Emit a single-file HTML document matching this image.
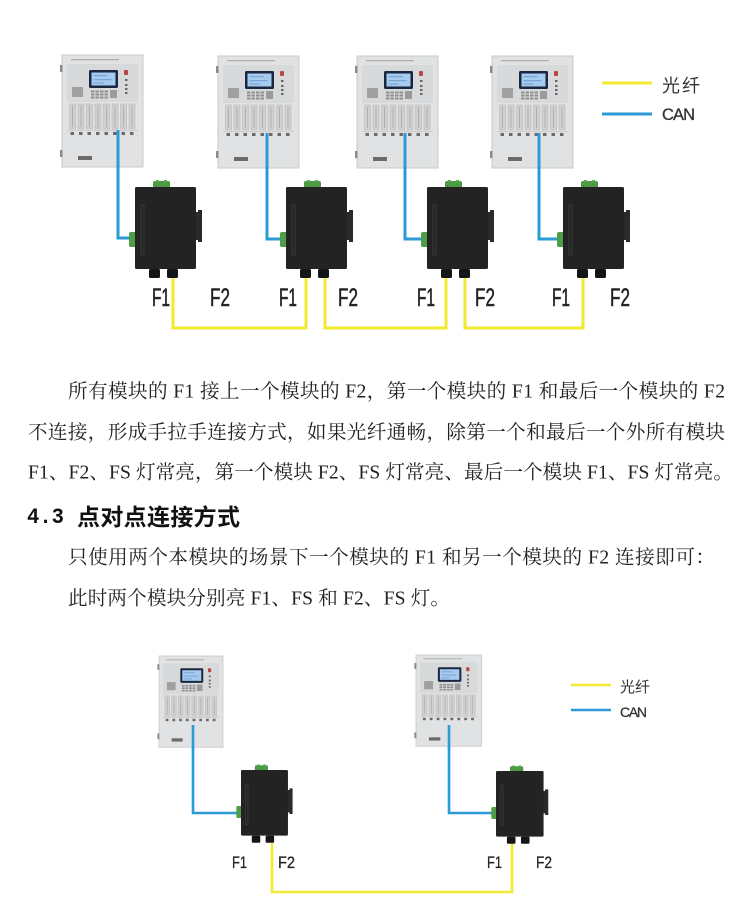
<!DOCTYPE html>
<html><head><meta charset="utf-8">
<style>
html,body{margin:0;padding:0;background:#fff;}
body{width:750px;height:912px;position:relative;overflow:hidden;}
svg{position:absolute;left:0;top:0;}
</style></head>
<body>
<svg width="750" height="912" viewBox="0 0 750 912" xmlns="http://www.w3.org/2000/svg">
<defs>
 <g id="pn">
  <rect x="0" y="0" width="81" height="112" fill="#e1e2e3" stroke="#c9c9c9" stroke-width="1"/>
  <rect x="-2" y="10" width="2.5" height="7" fill="#8a8a8a"/>
  <rect x="-2" y="95" width="2.5" height="7" fill="#8a8a8a"/>
  <rect x="9" y="4" width="48" height="1.3" fill="#b0b0b0"/>
  <rect x="5" y="9" width="71" height="38" fill="#d8d9da"/>
  <rect x="27" y="15" width="29" height="18" rx="1.5" fill="#1b2640"/>
  <rect x="29.5" y="17.5" width="24" height="13" fill="#a6cbef"/>
  <rect x="31.5" y="20" width="14" height="1.2" fill="#79a6d6"/>
  <rect x="31.5" y="24" width="18" height="1.2" fill="#79a6d6"/>
  <rect x="31.5" y="27.5" width="10" height="1.2" fill="#79a6d6"/>
  <rect x="10" y="32" width="11" height="10" fill="#a0a0a0"/>
  <g fill="#8f8f8f">
   <rect x="29" y="35.5" width="3.5" height="2"/><rect x="33.5" y="35.5" width="3.5" height="2"/><rect x="38" y="35.5" width="3.5" height="2"/><rect x="42.5" y="35.5" width="3.5" height="2"/>
   <rect x="29" y="38.5" width="3.5" height="2"/><rect x="33.5" y="38.5" width="3.5" height="2"/><rect x="38" y="38.5" width="3.5" height="2"/><rect x="42.5" y="38.5" width="3.5" height="2"/>
   <rect x="29" y="41.5" width="3.5" height="2"/><rect x="33.5" y="41.5" width="3.5" height="2"/><rect x="38" y="41.5" width="3.5" height="2"/><rect x="42.5" y="41.5" width="3.5" height="2"/>
  </g>
  <rect x="48" y="35" width="7" height="8" fill="#9a9a9a"/>
  <rect x="62" y="15" width="4" height="5" rx="1" fill="#b84444"/>
  <g fill="#666">
   <rect x="63" y="24" width="2.5" height="2"/><rect x="63" y="29" width="2.5" height="2"/><rect x="63" y="33" width="2.5" height="2"/><rect x="63" y="37" width="2.5" height="2"/>
  </g>
  <g fill="#d0d0d0" stroke="#bbbbbb" stroke-width="0.6">
   <rect x="7.5" y="49" width="6" height="25"/><rect x="16" y="49" width="6" height="25"/><rect x="24.5" y="49" width="6" height="25"/><rect x="33" y="49" width="6" height="25"/>
   <rect x="41.5" y="49" width="6" height="25"/><rect x="50" y="49" width="6" height="25"/><rect x="58.5" y="49" width="6" height="25"/><rect x="67" y="49" width="6" height="25"/>
  </g>
  <g fill="#b0b0b0">
   <rect x="10" y="51" width="1" height="21"/><rect x="18.5" y="51" width="1" height="21"/><rect x="27" y="51" width="1" height="21"/><rect x="35.5" y="51" width="1" height="21"/>
   <rect x="44" y="51" width="1" height="21"/><rect x="52.5" y="51" width="1" height="21"/><rect x="61" y="51" width="1" height="21"/><rect x="69.5" y="51" width="1" height="21"/>
  </g>
  <rect x="5" y="75.5" width="71" height="0.6" fill="#bbbbbb"/>
  <g fill="#6a6a6a">
   <rect x="8.5" y="77" width="3.5" height="3"/><rect x="17" y="77" width="3.5" height="3"/><rect x="25.5" y="77" width="3.5" height="3"/><rect x="34" y="77" width="3.5" height="3"/>
   <rect x="42.5" y="77" width="3.5" height="3"/><rect x="51" y="77" width="3.5" height="3"/><rect x="59.5" y="77" width="3.5" height="3"/><rect x="68" y="77" width="3.5" height="3"/>
  </g>
  <rect x="16" y="101" width="14" height="4" fill="#6b6b6b"/>
 </g>
 <g id="md">
  <rect x="18" y="-6" width="17" height="7" rx="2" fill="#4c9a44"/>
  <rect x="21" y="-7" width="3" height="2" fill="#5fae55"/>
  <rect x="29" y="-7" width="3" height="2" fill="#5fae55"/>
  <rect x="-6" y="45" width="8" height="15" rx="2" fill="#4f9d46"/>
  <path d="M60 25 h3 v-2 h4 v32 h-4 v-2 h-3z" fill="#2a2a2a"/>
  <rect x="0" y="0" width="61" height="82" rx="1.5" fill="#232323"/>
  <rect x="6" y="18" width="3" height="50" fill="none" stroke="#3a3a3a" stroke-width="1"/>
  <rect x="14" y="82" width="11" height="9" rx="1.5" fill="#151515"/>
  <rect x="32" y="82" width="11" height="9" rx="1.5" fill="#151515"/>
 </g>
</defs>

<!-- TOP DIAGRAM -->
<g fill="none" stroke="#f2ea2f" stroke-width="3">
 <path d="M173 278 V328 H306 V278"/>
 <path d="M325 278 V328 H446 V278"/>
 <path d="M465 278 V328 H583 V278"/>
</g>
<g fill="none" stroke="#2b9ad6" stroke-width="3">
 <path d="M118 130 V238 H131"/>
 <path d="M267 133 V239 H282"/>
 <path d="M405 133 V239 H423"/>
 <path d="M539 133 V239 H559"/>
</g>
<use href="#pn" transform="translate(62,55)"/>
<use href="#pn" transform="translate(218,56)"/>
<use href="#pn" transform="translate(357,56)"/>
<use href="#pn" transform="translate(492,56)"/>
<g fill="none" stroke="#2b9ad6" stroke-width="3">
 <path d="M118 130 V170"/>
 <path d="M267 133 V170"/>
 <path d="M405 133 V170"/>
 <path d="M539 133 V170"/>
</g>
<use href="#md" transform="translate(135,187)"/>
<use href="#md" transform="translate(286,187)"/>
<use href="#md" transform="translate(427,187)"/>
<use href="#md" transform="translate(563,187)"/>

<g font-family="Liberation Sans, sans-serif" font-size="25" fill="#222" stroke="#222" stroke-width="0.5">
 <text x="152" y="306" textLength="18" lengthAdjust="spacingAndGlyphs">F1</text>
 <text x="210" y="306" textLength="20" lengthAdjust="spacingAndGlyphs">F2</text>
 <text x="279" y="306" textLength="18" lengthAdjust="spacingAndGlyphs">F1</text>
 <text x="338" y="306" textLength="20" lengthAdjust="spacingAndGlyphs">F2</text>
 <text x="417" y="306" textLength="18" lengthAdjust="spacingAndGlyphs">F1</text>
 <text x="475" y="306" textLength="20" lengthAdjust="spacingAndGlyphs">F2</text>
 <text x="552" y="306" textLength="18" lengthAdjust="spacingAndGlyphs">F1</text>
 <text x="610" y="306" textLength="20" lengthAdjust="spacingAndGlyphs">F2</text>
</g>

<!-- top legend -->
<line x1="602" y1="83" x2="652" y2="83" stroke="#f2ea2f" stroke-width="3"/>
<line x1="602" y1="114" x2="652" y2="114" stroke="#2b9ad6" stroke-width="3"/>
<text x="662" y="92" font-family="Noto Sans CJK SC, sans-serif" font-size="18" fill="#333" textLength="38" lengthAdjust="spacing">光纤</text>
<text x="662" y="120" font-family="Liberation Sans, sans-serif" font-size="16.5" fill="#333" stroke="#333" stroke-width="0.3" textLength="33" lengthAdjust="spacing">CAN</text>

<!-- BODY TEXT -->
<g font-family="Liberation Serif, Noto Serif CJK SC, serif" font-size="19.6" fill="#222">
 <text x="68" y="397.5" textLength="657" lengthAdjust="spacing">所有模块的 F1 接上一个模块的 F2，第一个模块的 F1 和最后一个模块的 F2</text>
 <text x="28" y="438.5" textLength="697" lengthAdjust="spacing">不连接，形成手拉手连接方式，如果光纤通畅，除第一个和最后一个外所有模块</text>
 <text x="28" y="478.5" textLength="705" lengthAdjust="spacing">F1、F2、FS 灯常亮，第一个模块 F2、FS 灯常亮、最后一个模块 F1、FS 灯常亮。</text>
 <text x="68" y="563.5" textLength="647" lengthAdjust="spacing">只使用两个本模块的场景下一个模块的 F1 和另一个模块的 F2 连接即可：</text>
 <text x="68" y="604.5" textLength="382" lengthAdjust="spacing">此时两个模块分别亮 F1、FS 和 F2、FS 灯。</text>
</g>
<text x="27" y="523" font-family="Liberation Mono, monospace" font-weight="bold" font-size="22" fill="#111" textLength="37" lengthAdjust="spacingAndGlyphs">4.3</text>
<text x="77" y="525" font-family="Noto Sans CJK SC, sans-serif" font-weight="bold" font-size="23" fill="#111" textLength="163" lengthAdjust="spacing">点对点连接方式</text>

<!-- BOTTOM DIAGRAM -->
<path d="M272 843 V892 H512 V843" fill="none" stroke="#f2ea2f" stroke-width="2.6"/>
<g fill="none" stroke="#2b9ad6" stroke-width="2.6">
 <path d="M193 725 V813 H237"/>
 <path d="M449 725 V813 H492"/>
</g>
<use href="#pn" transform="translate(159,656) scale(0.79,0.815)"/>
<use href="#pn" transform="translate(416,655) scale(0.81,0.815)"/>
<g fill="none" stroke="#2b9ad6" stroke-width="2.6">
 <path d="M193 725 V750"/>
 <path d="M449 725 V750"/>
</g>
<use href="#md" transform="translate(241,770) scale(0.77,0.8)"/>
<use href="#md" transform="translate(496,771) scale(0.78,0.8)"/>

<g font-family="Liberation Sans, sans-serif" font-size="17" fill="#222" stroke="#222" stroke-width="0.3">
 <text x="232" y="868" textLength="15" lengthAdjust="spacingAndGlyphs">F1</text>
 <text x="278" y="868" textLength="17" lengthAdjust="spacingAndGlyphs">F2</text>
 <text x="487" y="868" textLength="15" lengthAdjust="spacingAndGlyphs">F1</text>
 <text x="536" y="868" textLength="16" lengthAdjust="spacingAndGlyphs">F2</text>
</g>

<!-- bottom legend -->
<line x1="571" y1="685" x2="611" y2="685" stroke="#f2ea2f" stroke-width="2.6"/>
<line x1="571" y1="710" x2="611" y2="710" stroke="#2b9ad6" stroke-width="2.6"/>
<text x="620" y="692" font-family="Noto Sans CJK SC, sans-serif" font-size="15" fill="#333" textLength="30" lengthAdjust="spacing">光纤</text>
<text x="620" y="717" font-family="Liberation Sans, sans-serif" font-size="14" fill="#333" stroke="#333" stroke-width="0.3" textLength="27" lengthAdjust="spacing">CAN</text>
</svg>
</body></html>
